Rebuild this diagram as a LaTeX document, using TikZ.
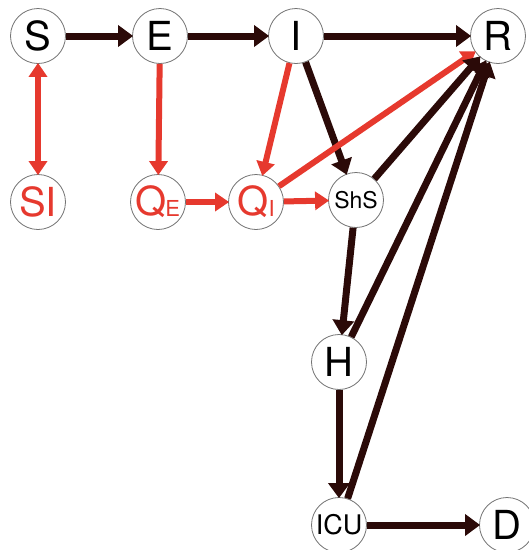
\documentclass[tikz,border=0pt]{standalone}
\usepackage{fontspec}
\setmainfont{TeX Gyre Heros}
\usetikzlibrary{arrows.meta}
\definecolor{dk}{HTML}{2B0A08}
\definecolor{rd}{HTML}{E6392E}
\begin{document}
\begin{tikzpicture}[x=1pt,y=-1pt,
  st/.style={circle,draw=black!55,line width=0.8pt,fill=white,minimum size=55pt,inner sep=0pt,font=\fontsize{40}{40}\selectfont},
  sm/.style={st,font=\fontsize{23}{23}\selectfont},
  dka/.style={draw=dk,line width=7pt,-{Triangle[length=15pt,width=21pt]},shorten >=-1pt},
  rda/.style={draw=rd,line width=6pt,-{Triangle[length=14pt,width=18pt]},shorten >=-1pt},
  rdb/.style={draw=rd,line width=6pt,{Triangle[length=14pt,width=18pt]}-{Triangle[length=14pt,width=18pt]},shorten >=-1pt,shorten <=-1pt}]
\useasboundingbox (0,0) rectangle (529,550);
\node[st] (S) at (38,36) {S};
\node[st] (E) at (160,36) {E};
\node[st] (I) at (296,36) {I};
\node[st] (R) at (498,36) {R};
\node[st,text=rd] (SI) at (38,202) {SI};
\node[st,text=rd] (QE) at (158,202) {Q\kern-1.5pt\raisebox{-1pt}{\fontsize{22}{22}\selectfont E}};
\node[st,text=rd] (QI) at (256,202) {Q\raisebox{-1pt}{\fontsize{22}{22}\selectfont I}};
\node[sm] (ShS) at (356,200) {ShS};
\node[st] (H) at (339,362) {H};
\node[st,font=\fontsize{27}{27}\selectfont] (ICU) at (339,525) {ICU};
\node[st] (D) at (507,525) {D};
\draw[dka] (S) -- (E);
\draw[dka] (E) -- (I);
\draw[dka] (I) -- (R);
\draw[rdb] (S) -- (SI);
\draw[rda] (E) -- (QE);
\draw[rda] (I) -- (QI);
\draw[dka] (I) -- (ShS);
\draw[rda] (QE) -- (QI);
\draw[rda] (QI) -- (ShS);
\draw[rda] (QI) -- (R);
\draw[dka] (ShS) -- (R);
\draw[dka] (ShS) -- (H);
\draw[dka] (H) -- (R);
\draw[dka] (H) -- (ICU);
\draw[dka] (ICU) -- (R);
\draw[dka] (ICU) -- (D);
\end{tikzpicture}
\end{document}
